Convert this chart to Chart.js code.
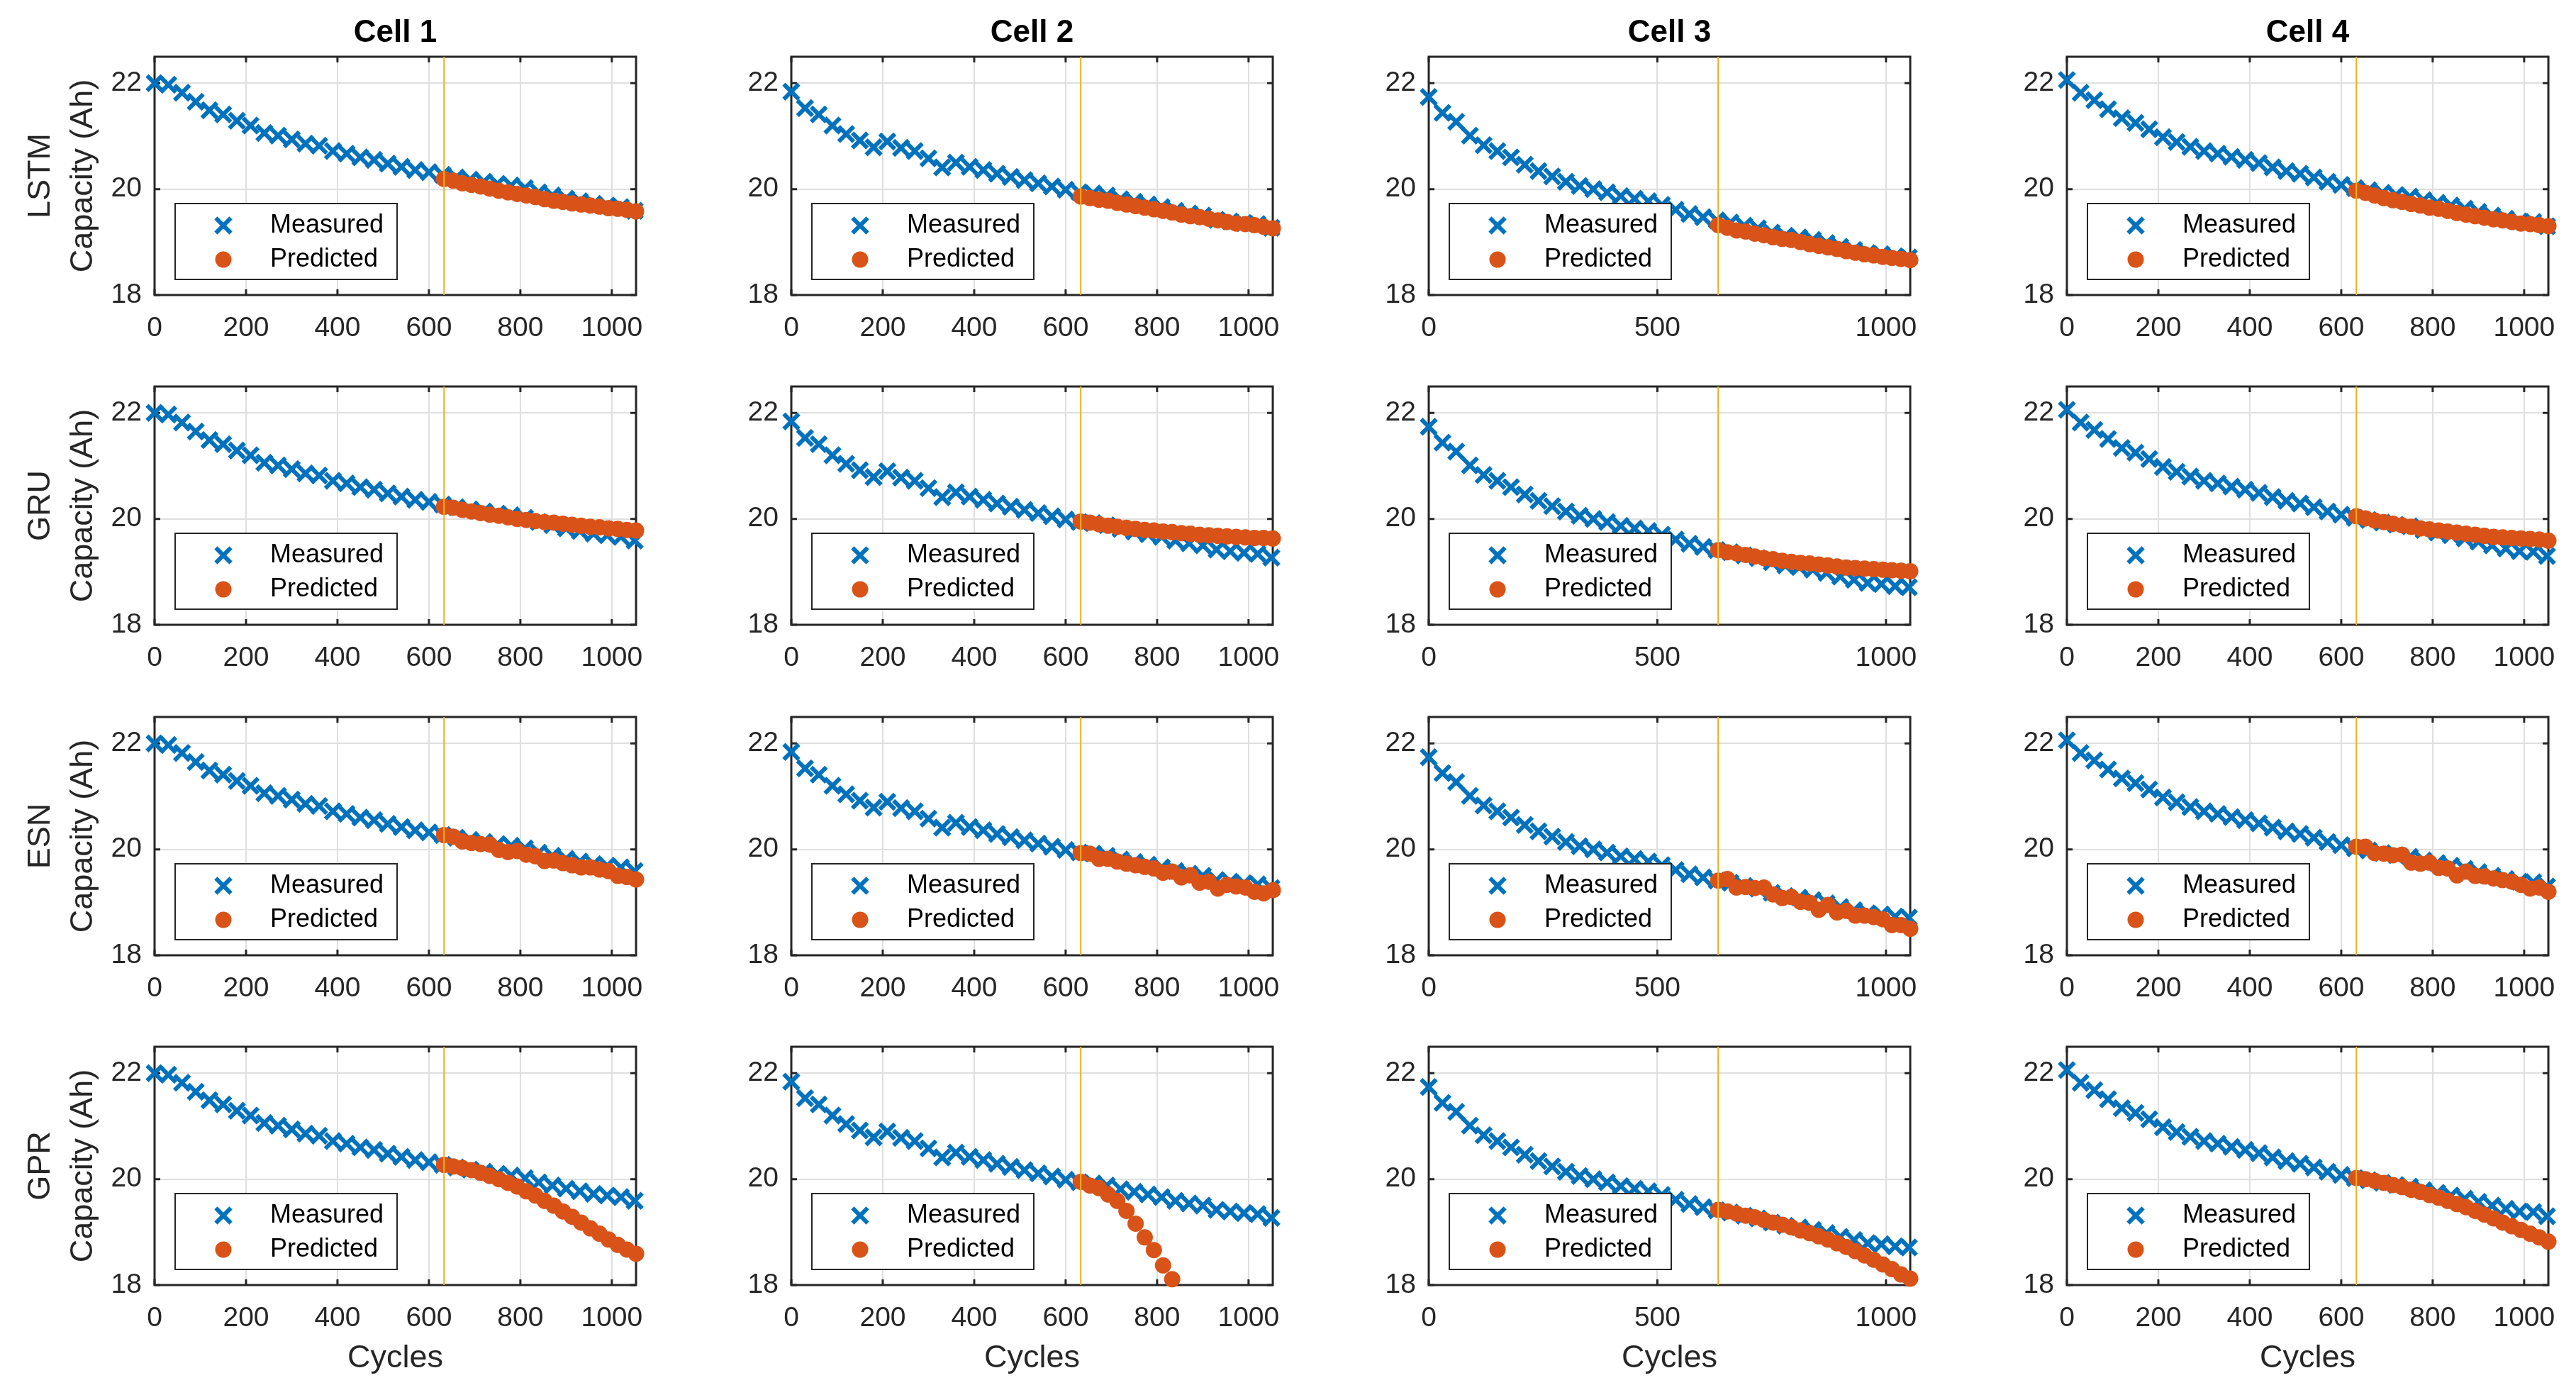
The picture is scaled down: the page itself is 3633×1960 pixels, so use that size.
<!DOCTYPE html>
<html>
<head>
<meta charset="utf-8">
<script src="https://cdn.jsdelivr.net/npm/chart.js@4.4.1/dist/chart.umd.min.js"></script>
<style>
  body { margin: 0; background: #fff; }
  #page { position: relative; width: 3633px; height: 1960px; overflow: hidden; background: #fff; }
  #page canvas { position: absolute; }
</style>
</head>
<body>
<div id="page"></div>
<script>
// measured capacity, one reading every 30 cycles
var cycles = [0, 30, 60, 90, 120, 150, 180, 210, 240, 270, 300, 330, 360, 390, 420, 450, 480, 510,
              540, 570, 600, 630, 660, 690, 720, 750, 780, 810, 840, 870, 900, 930, 960, 990, 1020, 1050];
var meas1 = [22.00, 21.97, 21.82, 21.65, 21.49, 21.41, 21.29, 21.20, 21.06, 21.01, 20.94, 20.86, 20.82, 20.72, 20.67, 20.60, 20.55, 20.48,
             20.42, 20.36, 20.32, 20.27, 20.22, 20.18, 20.14, 20.10, 20.07, 20.02, 19.94, 19.88, 19.82, 19.77, 19.72, 19.69, 19.66, 19.59];
var meas2 = [21.84, 21.53, 21.41, 21.20, 21.04, 20.92, 20.79, 20.90, 20.78, 20.72, 20.58, 20.41, 20.50, 20.42, 20.36, 20.29, 20.23, 20.17,
             20.11, 20.05, 19.99, 19.94, 19.92, 19.88, 19.81, 19.76, 19.71, 19.66, 19.59, 19.54, 19.50, 19.42, 19.39, 19.36, 19.34, 19.27];
var meas3 = [21.74, 21.44, 21.27, 21.01, 20.83, 20.72, 20.60, 20.46, 20.34, 20.24, 20.14, 20.06, 20.00, 19.94, 19.87, 19.82, 19.77, 19.70,
             19.61, 19.53, 19.47, 19.41, 19.37, 19.31, 19.26, 19.18, 19.12, 19.09, 19.04, 18.98, 18.91, 18.85, 18.79, 18.77, 18.73, 18.71];
var meas4 = [22.06, 21.82, 21.68, 21.51, 21.34, 21.25, 21.13, 20.98, 20.89, 20.80, 20.72, 20.67, 20.61, 20.55, 20.49, 20.41, 20.34, 20.29,
             20.22, 20.14, 20.08, 20.02, 19.98, 19.93, 19.89, 19.86, 19.79, 19.74, 19.69, 19.63, 19.57, 19.50, 19.44, 19.39, 19.38, 19.30];

// predictions after the split
var predCycles = [633, 653, 673, 693, 713, 733, 753, 773, 793, 813, 833, 853, 873, 893, 913, 933, 953, 973, 993, 1013, 1033, 1053];

var lstm1 = [20.19, 20.16, 20.11, 20.08, 20.05, 20.01, 19.97, 19.94, 19.91, 19.88, 19.85, 19.81, 19.78, 19.76, 19.73, 19.71, 19.69, 19.67, 19.64, 19.63, 19.61, 19.58];
var lstm2 = [19.86, 19.83, 19.80, 19.78, 19.74, 19.71, 19.68, 19.65, 19.62, 19.59, 19.56, 19.52, 19.49, 19.47, 19.44, 19.41, 19.38, 19.35, 19.34, 19.32, 19.29, 19.26];
var lstm3 = [19.32, 19.27, 19.22, 19.20, 19.16, 19.13, 19.09, 19.06, 19.04, 19.00, 18.96, 18.93, 18.90, 18.87, 18.83, 18.80, 18.77, 18.75, 18.72, 18.70, 18.68, 18.66];
var lstm4 = [19.97, 19.93, 19.88, 19.83, 19.79, 19.76, 19.72, 19.69, 19.65, 19.63, 19.59, 19.55, 19.52, 19.49, 19.46, 19.43, 19.41, 19.38, 19.35, 19.34, 19.32, 19.30];

var gru1 = [20.23, 20.21, 20.17, 20.14, 20.11, 20.08, 20.06, 20.03, 20.00, 19.98, 19.96, 19.94, 19.93, 19.91, 19.89, 19.87, 19.85, 19.84, 19.82, 19.81, 19.79, 19.78];
var gru2 = [19.95, 19.93, 19.90, 19.87, 19.85, 19.83, 19.81, 19.79, 19.78, 19.76, 19.75, 19.73, 19.72, 19.70, 19.69, 19.68, 19.67, 19.66, 19.65, 19.64, 19.64, 19.63];
var gru3 = [19.41, 19.37, 19.35, 19.32, 19.29, 19.26, 19.24, 19.21, 19.19, 19.17, 19.16, 19.14, 19.12, 19.10, 19.08, 19.07, 19.06, 19.05, 19.04, 19.03, 19.02, 19.01];
var gru4 = [20.05, 20.01, 19.97, 19.94, 19.91, 19.88, 19.85, 19.82, 19.80, 19.78, 19.76, 19.74, 19.72, 19.70, 19.68, 19.66, 19.65, 19.64, 19.63, 19.62, 19.61, 19.59];

var esn1 = [20.27, 20.24, 20.15, 20.12, 20.10, 20.09, 19.99, 19.95, 19.97, 19.90, 19.87, 19.78, 19.79, 19.74, 19.70, 19.66, 19.66, 19.62, 19.59, 19.50, 19.48, 19.43];
var esn2 = [19.93, 19.92, 19.82, 19.82, 19.77, 19.73, 19.70, 19.67, 19.64, 19.56, 19.58, 19.47, 19.51, 19.37, 19.39, 19.26, 19.33, 19.30, 19.28, 19.20, 19.17, 19.23];
var esn3 = [19.41, 19.44, 19.28, 19.29, 19.27, 19.28, 19.15, 19.08, 19.10, 19.01, 18.99, 18.86, 18.95, 18.81, 18.84, 18.75, 18.75, 18.72, 18.68, 18.57, 18.57, 18.50];
var esn4 = [20.05, 20.05, 19.93, 19.92, 19.89, 19.90, 19.75, 19.73, 19.75, 19.65, 19.64, 19.51, 19.58, 19.50, 19.49, 19.45, 19.42, 19.39, 19.33, 19.26, 19.28, 19.20];

var gpr1 = [20.27, 20.24, 20.21, 20.17, 20.12, 20.06, 20.00, 19.93, 19.86, 19.77, 19.69, 19.59, 19.50, 19.39, 19.29, 19.18, 19.07, 18.97, 18.86, 18.76, 18.67, 18.59];
var gpr2 = [19.95, 19.88, 19.83, 19.71, 19.59, 19.40, 19.16, 18.90, 18.66, 18.37, 18.11];
var gpr3 = [19.42, 19.39, 19.35, 19.31, 19.28, 19.23, 19.18, 19.14, 19.09, 19.03, 18.98, 18.92, 18.86, 18.79, 18.72, 18.64, 18.56, 18.48, 18.39, 18.30, 18.20, 18.12];
var gpr4 = [20.02, 20.00, 19.97, 19.93, 19.89, 19.85, 19.80, 19.76, 19.70, 19.65, 19.59, 19.53, 19.47, 19.40, 19.33, 19.26, 19.18, 19.11, 19.04, 18.97, 18.90, 18.82];

var models = ['LSTM', 'GRU', 'ESN', 'GPR'];
var cellNames = ['Cell 1', 'Cell 2', 'Cell 3', 'Cell 4'];
var xTicks200 = [0, 200, 400, 600, 800, 1000];
var xTicks500 = [0, 500, 1000];
var xTicksByCell = [xTicks200, xTicks200, xTicks500, xTicks200];
var yTicks = [18, 20, 22];
var splitCycle = 633;

var measured = [meas1, meas2, meas3, meas4];
var predicted = [
    [lstm1, lstm2, lstm3, lstm4],
    [gru1, gru2, gru3, gru4],
    [esn1, esn2, esn3, esn4],
    [gpr1, gpr2, gpr3, gpr4]
];

// layout of the 4x4 grid (page pixels)
var plotLeft = [218, 1116, 2015, 2915];
var plotTop = [80, 545, 1011, 1476];
var plotW = 684, plotH = 336;
var topSpace = 80, bottomSpace = 140, rightPad = 30;

var blue = '#0072BD';
var orange = '#D95319';
var axisColor = '#262626';
var crossR = 15, crossW = 6;

Chart.defaults.font.family = '"Liberation Sans", Arial, sans-serif';
Chart.defaults.color = axisColor;

function toPoints(xs, ys) {
    var pts = [];
    for (var i = 0; i < ys.length; i++) pts.push({ x: xs[i], y: ys[i] });
    return pts;
}

function plainLabel(v) { return String(v); }

// box + inner ticks like matlab axes
var frame = {
    id: 'frame',
    beforeDatasetsDraw: function(chart) {
        var ctx = chart.ctx, a = chart.chartArea;
        var sx = chart.scales.x, sy = chart.scales.y;
        ctx.save();
        ctx.strokeStyle = axisColor;
        ctx.lineWidth = 3;
        ctx.strokeRect(a.left, a.top, a.right - a.left, a.bottom - a.top);
        ctx.beginPath();
        sx.ticks.forEach(function(t) {
            var px = sx.getPixelForValue(t.value);
            ctx.moveTo(px, a.bottom); ctx.lineTo(px, a.bottom - 8);
            ctx.moveTo(px, a.top); ctx.lineTo(px, a.top + 8);
        });
        sy.ticks.forEach(function(t) {
            var py = sy.getPixelForValue(t.value);
            ctx.moveTo(a.left, py); ctx.lineTo(a.left + 8, py);
            ctx.moveTo(a.right, py); ctx.lineTo(a.right - 8, py);
        });
        ctx.stroke();
        ctx.restore();
    }
};

// legend box sitting in the lower left of the axes
var boxLegend = {
    id: 'boxLegend',
    afterDatasetsDraw: function(chart) {
        var ctx = chart.ctx, a = chart.chartArea;
        var x0 = a.left + 29, y0 = a.top + 207, w = 313, h = 107;
        ctx.save();
        ctx.fillStyle = '#ffffff';
        ctx.fillRect(x0, y0, w, h);
        ctx.strokeStyle = axisColor;
        ctx.lineWidth = 2;
        ctx.strokeRect(x0, y0, w, h);

        var mx = x0 + 68;
        var cy1 = y0 + 31, cy2 = y0 + 79;
        var r = crossR * Math.SQRT1_2;
        ctx.strokeStyle = blue;
        ctx.lineWidth = crossW;
        ctx.beginPath();
        ctx.moveTo(mx - r, cy1 - r); ctx.lineTo(mx + r, cy1 + r);
        ctx.moveTo(mx - r, cy1 + r); ctx.lineTo(mx + r, cy1 - r);
        ctx.stroke();
        ctx.fillStyle = orange;
        ctx.beginPath();
        ctx.arc(mx, cy2, 11.5, 0, Math.PI * 2);
        ctx.fill();

        ctx.fillStyle = '#000000';
        ctx.font = '36px "Liberation Sans", Arial, sans-serif';
        ctx.textBaseline = 'middle';
        ctx.fillText('Measured', x0 + 134, cy1);
        ctx.fillText('Predicted', x0 + 134, cy2);
        ctx.restore();
    }
};

var page = document.getElementById('page');

function makePanel(row, col) {
    var yw = col === 0 ? 218 : 100;
    var canvas = document.createElement('canvas');
    canvas.width = yw + plotW + rightPad;
    canvas.height = topSpace + plotH + bottomSpace;
    canvas.style.left = (plotLeft[col] - yw) + 'px';
    canvas.style.top = (plotTop[row] - topSpace) + 'px';
    page.appendChild(canvas);

    new Chart(canvas.getContext('2d'), {
        type: 'scatter',
        data: {
            datasets: [{
                label: 'Measured',
                data: toPoints(cycles, measured[col]),
                pointStyle: 'crossRot',
                pointRadius: crossR,
                pointHoverRadius: crossR,
                pointBorderWidth: crossW,
                borderColor: blue,
                backgroundColor: blue,
                clip: false,
                order: 2
            }, {
                label: 'Predicted',
                data: toPoints(predCycles, predicted[row][col]),
                pointStyle: 'circle',
                pointRadius: 10.5,
                pointHoverRadius: 10.5,
                pointBorderWidth: 2,
                borderColor: orange,
                backgroundColor: orange,
                clip: false,
                order: 1
            }, {
                label: 'split',
                type: 'line',
                data: [{ x: splitCycle, y: 18 }, { x: splitCycle, y: 22.5 }],
                borderColor: '#EDB120',
                borderWidth: 2,
                pointRadius: 0,
                order: 0
            }]
        },
        options: {
            responsive: false,
            animation: false,
            devicePixelRatio: 1,
            layout: { padding: { left: 0, right: rightPad, top: 0, bottom: 0 } },
            plugins: {
                legend: { display: false },
                tooltip: { enabled: false },
                title: {
                    display: true,
                    fullSize: false,
                    text: row === 0 ? cellNames[col] : '',
                    color: '#000000',
                    font: { size: 44, weight: 'bold', lineHeight: 1.2 },
                    padding: { top: 20, bottom: 7.2 }
                }
            },
            scales: {
                x: {
                    type: 'linear',
                    min: 0,
                    max: 1053,
                    afterFit: function(s) { s.height = bottomSpace; },
                    afterBuildTicks: function(s) {
                        s.ticks = xTicksByCell[col].map(function(v) { return { value: v }; });
                    },
                    ticks: {
                        padding: 24,
                        maxRotation: 0,
                        autoSkip: false,
                        color: axisColor,
                        font: { size: 39 },
                        callback: plainLabel
                    },
                    grid: { color: '#dfdfdf', lineWidth: 2, drawTicks: false },
                    border: { display: false },
                    title: {
                        display: row === 3,
                        text: 'Cycles',
                        color: axisColor,
                        font: { size: 45, lineHeight: 1.2 },
                        padding: { top: 0, bottom: 9 }
                    }
                },
                y: {
                    min: 18,
                    max: 22.5,
                    afterFit: function(s) { s.width = yw; },
                    afterBuildTicks: function(s) {
                        s.ticks = yTicks.map(function(v) { return { value: v }; });
                    },
                    ticks: {
                        padding: 18,
                        color: axisColor,
                        font: { size: 39 },
                        callback: plainLabel
                    },
                    grid: { color: '#dfdfdf', lineWidth: 2, drawTicks: false },
                    border: { display: false },
                    title: {
                        display: col === 0,
                        text: [models[row], 'Capacity (Ah)'],
                        color: axisColor,
                        font: { size: 45, lineHeight: 1.333 },
                        padding: { top: 28, bottom: 0 }
                    }
                }
            }
        },
        plugins: [frame, boxLegend]
    });
}

for (var r = 0; r < 4; r++) {
    for (var c = 0; c < 4; c++) {
        makePanel(r, c);
    }
}
</script>
</body>
</html>
